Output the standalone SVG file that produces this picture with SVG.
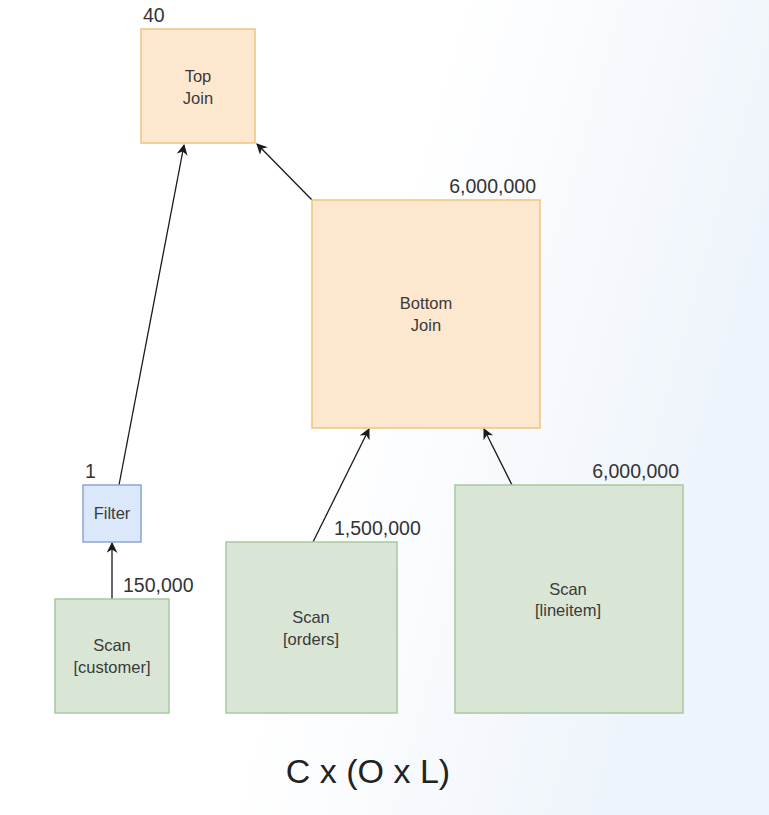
<svg xmlns="http://www.w3.org/2000/svg" width="769" height="815" viewBox="0 0 769 815">
<defs>
<linearGradient id="bg" x1="0" y1="0" x2="1" y2="0.3">
<stop offset="0" stop-color="#ffffff"/>
<stop offset="0.55" stop-color="#ffffff"/>
<stop offset="1" stop-color="#eef4fb"/>
</linearGradient>
<marker id="arr" viewBox="0 0 10 10" refX="9" refY="5" markerWidth="11" markerHeight="11" markerUnits="userSpaceOnUse" orient="auto">
<path d="M0,0 L10,5 L0,10 L3,5 Z" fill="#1a1a1a"/>
</marker>
<style>
.orange{fill:#fde8cf;stroke:#ecc57f;stroke-width:1.5}
.green{fill:#d9e6d6;stroke:#a9c89f;stroke-width:1.5}
.blue{fill:#dbe8fb;stroke:#8aa6d0;stroke-width:1.5}
.nt{font-family:"Liberation Sans",Arial,sans-serif;font-size:16.5px;fill:#3a3a3a;text-anchor:middle}
.lb{font-family:"Liberation Sans",Arial,sans-serif;font-size:19.5px;fill:#333}
.conn line{stroke:#1a1a1a;stroke-width:1.3;marker-end:url(#arr)}
</style>
</defs>
<rect width="769" height="815" fill="url(#bg)"/>
<g class="conn" id="connectors">
<line x1="119" y1="485" x2="184" y2="145"/>
<line x1="312" y1="200" x2="257" y2="144"/>
<line x1="313" y1="542" x2="369" y2="429"/>
<line x1="512" y1="485" x2="484" y2="429"/>
<line x1="112" y1="599" x2="112" y2="543"/>
</g>
<g id="topjoin">
<rect class="orange" x="141" y="29" width="114" height="114"/>
<text class="nt" x="198" y="82">Top</text>
<text class="nt" x="198" y="104">Join</text>
<text class="lb" x="143" y="22">40</text>
</g>
<g id="bottomjoin">
<rect class="orange" x="312" y="200" width="228" height="228"/>
<text class="nt" x="426" y="309">Bottom</text>
<text class="nt" x="426" y="331">Join</text>
<text class="lb" x="536" y="193" text-anchor="end">6,000,000</text>
</g>
<g id="filter">
<rect class="blue" x="83" y="485" width="58" height="57"/>
<text class="nt" x="112" y="519">Filter</text>
<text class="lb" x="85" y="478">1</text>
</g>
<g id="scancustomer">
<rect class="green" x="55" y="599" width="114" height="114"/>
<text class="nt" x="112" y="651">Scan</text>
<text class="nt" x="112" y="673">[customer]</text>
<text class="lb" x="123" y="592">150,000</text>
</g>
<g id="scanorders">
<rect class="green" x="226" y="542" width="171" height="171"/>
<text class="nt" x="311" y="623">Scan</text>
<text class="nt" x="311" y="645">[orders]</text>
<text class="lb" x="334" y="535">1,500,000</text>
</g>
<g id="scanlineitem">
<rect class="green" x="455" y="485" width="228" height="228"/>
<text class="nt" x="568" y="595">Scan</text>
<text class="nt" x="568" y="616">[lineitem]</text>
<text class="lb" x="679" y="478" text-anchor="end">6,000,000</text>
</g>
<text x="368" y="783" font-family="Liberation Sans,Arial,sans-serif" font-size="34" fill="#222" text-anchor="middle">C x (O x L)</text>
</svg>
